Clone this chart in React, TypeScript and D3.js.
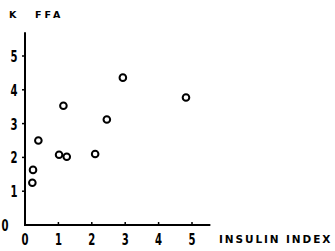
import React from "react";
import * as d3 from "d3";

const xTicks = [0, 1, 2, 3, 4, 5];
const yTicks = [0, 1, 2, 3, 4, 5];
const insulin = [0.24, 0.22, 0.4, 1.02, 1.25, 2.1, 2.45, 1.15, 2.93, 4.82];
const kffa = [1.63, 1.25, 2.5, 2.08, 2.02, 2.1, 3.12, 3.53, 4.36, 3.77];

export default function App() {
  const W = 335, H = 251;
  const x = d3.scaleLinear().domain([0, 5]).range([25, 192]);
  const y = d3.scaleLinear().domain([0, 5]).range([225, 56]);
  const numFont = "'DejaVu Sans Condensed', 'DejaVu Sans', sans-serif";
  const lblFont = "'DejaVu Sans', sans-serif";
  const digit = (key: string, cx: number, by: number, t: number) => (
    <text key={key} x={cx - 3.5} y={by} textLength={7} lengthAdjust="spacingAndGlyphs"
      fontFamily={numFont} fontWeight={600} fontSize={16} fill="#000">{t}</text>
  );
  return (
    <svg width={W} height={H} style={{ position: "absolute", left: 0, top: 0, background: "#fff" }}>
      <line x1={x(0)} x2={x(0)} y1={y(0) + 1} y2={y(5.7)} stroke="#000" strokeWidth={2} />
      <line x1={x(0) - 1} x2={x(5.55)} y1={y(0)} y2={y(0)} stroke="#000" strokeWidth={2} />
      {yTicks.map((t) => (
        <g key={"y" + t}>
          {t > 0 && <line x1={x(0) - 3} x2={x(0)} y1={y(t)} y2={y(t)} stroke="#000" strokeWidth={1.5} />}
          {digit("yl" + t, t === 0 ? 5 : 14, y(t) + 6, t)}
        </g>
      ))}
      {xTicks.map((t) => (
        <g key={"x" + t}>
          {t > 0 && <line x1={x(t)} x2={x(t)} y1={y(0) - 3} y2={y(0)} stroke="#000" strokeWidth={1.5} />}
          {digit("xl" + t, x(t), 245, t)}
        </g>
      ))}
      {insulin.map((v, i) => (
        <circle key={i} cx={x(v)} cy={y(kffa[i])} r={3.3} fill="none" stroke="#000" strokeWidth={2} />
      ))}
      <text x={9} y={18} fontFamily={lblFont} fontWeight="bold" fontSize={9.5} fill="#000">K</text>
      <text x={35} y={18} fontFamily={lblFont} fontWeight="bold" fontSize={9.5} fill="#000" letterSpacing={3}>FFA</text>
      <text x={219} y={243} fontFamily={lblFont} fontWeight="bold" fontSize={10.5} fill="#000" letterSpacing={1.9}>INSULIN INDEX</text>
    </svg>
  );
}
